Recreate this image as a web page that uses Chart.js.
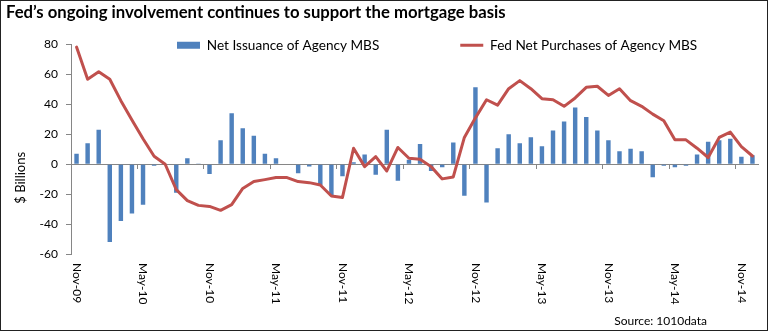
<!DOCTYPE html>
<html>
<head>
<meta charset="utf-8">
<script src="https://cdn.jsdelivr.net/npm/chart.js@4.4.1/dist/chart.umd.min.js"></script>
<style>
  html, body { margin: 0; padding: 0; background: #fff; }
  #wrap { position: relative; width: 768px; height: 331px; box-shadow: inset 0 0 0 1px #222; }
  canvas { position: absolute; left: 0; top: 0; }
</style>
</head>
<body>
<div id="wrap"><canvas id="mbsCanvas" width="768" height="331"></canvas></div>
<script>
var months = [
	'Nov-09', 'Dec-09',
	'Jan-10', 'Feb-10', 'Mar-10', 'Apr-10', 'May-10', 'Jun-10', 'Jul-10', 'Aug-10', 'Sep-10', 'Oct-10', 'Nov-10', 'Dec-10',
	'Jan-11', 'Feb-11', 'Mar-11', 'Apr-11', 'May-11', 'Jun-11', 'Jul-11', 'Aug-11', 'Sep-11', 'Oct-11', 'Nov-11', 'Dec-11',
	'Jan-12', 'Feb-12', 'Mar-12', 'Apr-12', 'May-12', 'Jun-12', 'Jul-12', 'Aug-12', 'Sep-12', 'Oct-12', 'Nov-12', 'Dec-12',
	'Jan-13', 'Feb-13', 'Mar-13', 'Apr-13', 'May-13', 'Jun-13', 'Jul-13', 'Aug-13', 'Sep-13', 'Oct-13', 'Nov-13', 'Dec-13',
	'Jan-14', 'Feb-14', 'Mar-14', 'Apr-14', 'May-14', 'Jun-14', 'Jul-14', 'Aug-14', 'Sep-14', 'Oct-14', 'Nov-14', 'Dec-14'
];

// $ billions, monthly
var netIssuance = [
	7, 14, 23, -52, -38, -33, -27, -1, 0, -19, 4, 0.5, -6.5, 16, 34, 24, 19, 7, 4, 0,
	-6, -1.5, -14, -21, -8, 1.3, 6.5, -7, 23, -11, 3, 13.5, -4.5, -2, 14.5, -21, 51.5, -25.5,
	10.7, 20, 14, 18, 12, 22.5, 28.5, 38, 31.5, 22.5, 16, 8.7, 10.3, 8.7, -8.7, -1, -2, -1,
	6.5, 15, 16, 17, 5, 6
];
var fedPurchases = [
	78.3, 56.8, 61.8, 56.8, 42.5, 29.5, 17, 5.3, 0, -17, -24.3, -27.5, -28.2, -30.8, -27, -16.2,
	-11.6, -10.3, -8.9, -8.9, -11.6, -12.3, -13.9, -21.2, -22.2, 10.7, -1.6, 5.1, -4.5, 11.2, 4, 3.4,
	-1.6, -9.8, -8.5, 17.9, 31, 43.1, 39.5, 50.5, 55.9, 50.5, 43.8, 43.1, 38.7, 44.3, 51.4, 52.1,
	46, 50.5, 42.5, 38.7, 33.5, 29.1, 16.3, 16.3, 10.7, 4.5, 17.9, 21.5, 11.8, 5.5
];

var yMin = -60, yMax = 80, yStep = 20;
var axisGrey = '#868686';

Chart.defaults.font.family = 'Lato';
Chart.defaults.color = '#000';

// legend floats inside the plot, month labels hang downward, axis title + source note
var extras = {
	id: 'extras',
	afterInit: function(chart) {
		var lg = chart.legend;
		var fit = lg.fit;
		lg.fit = function() { fit.call(this); this.height = 0; };
	},
	afterLayout: function(chart) {
		var lg = chart.legend, area = chart.chartArea;
		var pad = lg.options.labels.padding;
		lg.left = area.left + 106 - pad;
		lg.right = chart.width + 300;
		lg.top = area.top - 6 - pad;
		lg.bottom = area.top + 14;
	},
	afterDraw: function(chart) {
		var ctx = chart.ctx, xs = chart.scales.x, area = chart.chartArea;
		ctx.save();
		ctx.fillStyle = '#000';
		ctx.font = '12px Lato';
		ctx.textAlign = 'left';
		ctx.textBaseline = 'middle';
		months.forEach(function(m, i) {
			if (i % 6) return;
			ctx.save();
			ctx.translate(xs.getPixelForValue(i), area.bottom + 9);
			ctx.rotate(Math.PI / 2);
			ctx.fillText(m, 0, 0);
			ctx.restore();
		});

		ctx.save();
		ctx.translate(21, (area.top + chart.height - 20) / 2);
		ctx.rotate(-Math.PI / 2);
		ctx.textAlign = 'center';
		ctx.font = '13px Lato';
		ctx.fillText('$ Billions', 0, 0);
		ctx.restore();

		ctx.textAlign = 'right';
		ctx.font = '12px Lato';
		ctx.fillText('Source: 1010data', 707, 321);
		ctx.restore();
	}
};

var ctx = document.getElementById('mbsCanvas').getContext('2d');
var chart = new Chart(ctx, {
	type: 'bar',
	data: {
		labels: months,
		datasets: [{
			label: 'Net Issuance of Agency MBS',
			data: netIssuance,
			backgroundColor: '#4F81BD',
			borderWidth: 0,
			pointStyle: 'rect',
			barPercentage: 0.4,
			categoryPercentage: 1,
			order: 1,
		}, {
			type: 'line',
			label: 'Fed Net Purchases of Agency MBS',
			data: fedPurchases,
			borderColor: '#C0504D',
			backgroundColor: '#C0504D',
			borderWidth: 3,
			pointRadius: 0,
			pointStyle: 'line',
			tension: 0,
			fill: false,
			borderJoinStyle: 'round',
			borderCapStyle: 'round',
			order: 0,
		}]
	},
	options: {
		responsive: false,
		animation: false,
		devicePixelRatio: 1,
		layout: { padding: { left: 6, right: 10, top: 0, bottom: 77 } },
		scales: {
			x: {
				type: 'category',
				position: { y: 0 },
				offset: true,
				grid: {
					offset: true,
					drawOnChartArea: false,
					drawTicks: true,
					tickLength: 4,
					color: function(c) { return c.index % 6 === 0 ? axisGrey : 'transparent'; }
				},
				border: { display: true, color: axisGrey, width: 1 },
				ticks: { display: false, autoSkip: false }
			},
			y: {
				min: yMin,
				max: yMax,
				afterFit: function(scale) { scale.width = 65; },
				grid: { drawOnChartArea: false, drawTicks: true, tickLength: 5, color: axisGrey },
				border: { display: true, color: axisGrey },
				ticks: { stepSize: yStep, padding: 8, font: { size: 12 }, color: '#000' }
			}
		},
		plugins: {
			title: {
				display: true,
				text: 'Fed\u2019s ongoing involvement continues to support the mortgage basis',
				align: 'start',
				color: '#000',
				font: { size: 16.7, weight: 'bold' },
				padding: { top: 3, bottom: 21.5 }
			},
			legend: {
				position: 'top',
				align: 'start',
				labels: {
					usePointStyle: true,
					pointStyleWidth: 23,
					boxHeight: 7,
					padding: 81,
					font: { size: 13.6 },
					color: '#000',
					sort: function(a, b) { return a.datasetIndex - b.datasetIndex; }
				}
			},
			tooltip: { enabled: false }
		}
	},
	plugins: [extras]
});
</script>
</body>
</html>
